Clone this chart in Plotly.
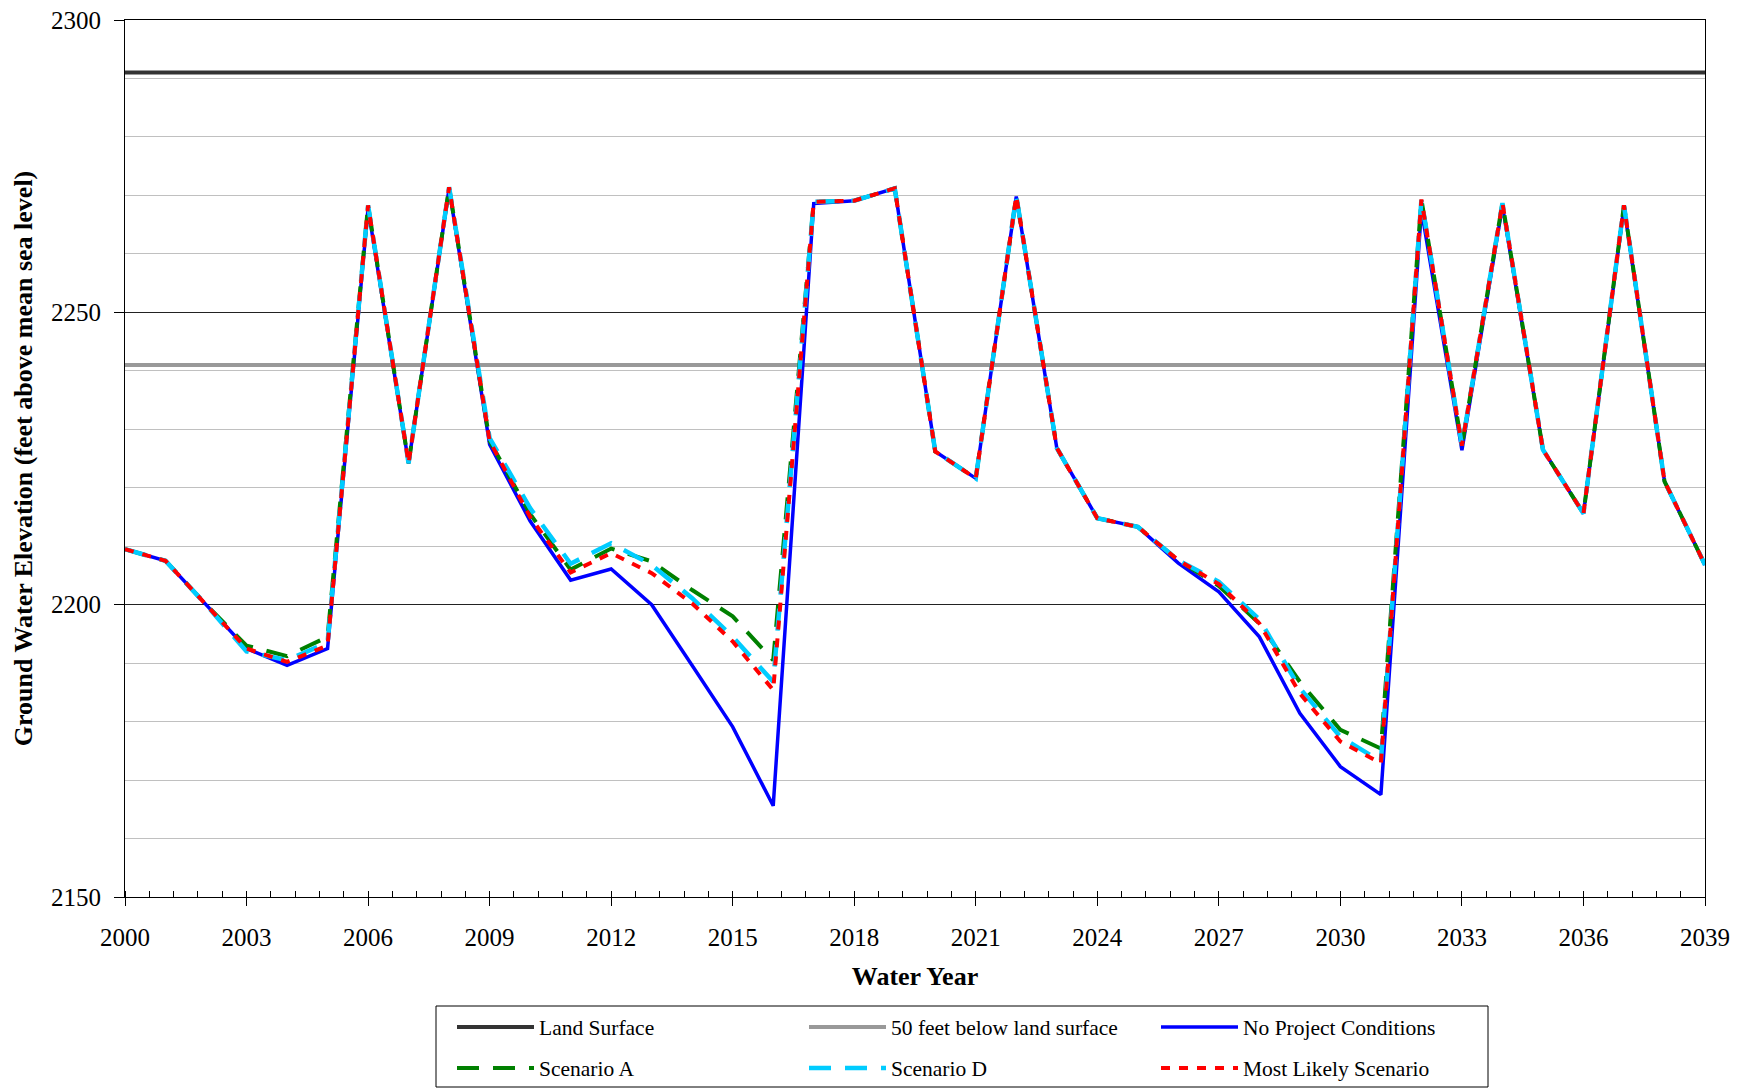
import plotly.graph_objects as go

# ---------------- data ----------------
years = list(range(2000, 2040))

land_surface_elev = 2291
below_50_elev = 2241

no_project = [2209.5, 2207.5, 2200.0, 2192.5, 2189.6, 2192.5, 2267.8, 2224.2, 2271.2, 2227.4,
              2214.3, 2204.2, 2206.1, 2200.0, 2189.6, 2179.1, 2165.6, 2268.6, 2269.1, 2271.2,
              2226.2, 2221.6, 2269.8, 2226.8, 2214.8, 2213.3, 2207.1, 2202.2, 2194.5, 2181.4,
              2172.3, 2167.5, 2267.5, 2226.4, 2268.2, 2226.5, 2215.6, 2268.0, 2221.1, 2206.8]

scenario_a = [2209.5, 2207.5, 2200.0, 2193.0, 2191.2, 2194.5, 2268.3, 2224.2, 2271.4, 2228.0,
              2215.5, 2206.0, 2209.6, 2207.4, 2202.5, 2198.0, 2190.5, 2268.9, 2269.1, 2271.2,
              2226.2, 2221.6, 2269.9, 2226.8, 2214.8, 2213.3, 2207.6, 2203.2, 2196.8, 2186.8,
              2178.6, 2175.4, 2269.3, 2227.2, 2268.7, 2226.5, 2215.6, 2268.3, 2221.1, 2206.8]

scenario_d = [2209.5, 2207.5, 2200.0, 2192.0, 2190.5, 2193.5, 2268.3, 2224.2, 2271.4, 2228.5,
              2216.5, 2207.0, 2210.5, 2206.8, 2201.1, 2194.5, 2186.8, 2268.9, 2269.1, 2271.2,
              2226.2, 2221.6, 2269.9, 2226.8, 2214.8, 2213.3, 2207.6, 2203.9, 2197.5, 2185.7,
              2177.4, 2173.2, 2269.3, 2227.2, 2268.7, 2226.5, 2215.6, 2268.3, 2221.1, 2206.8]

most_likely = [2209.5, 2207.5, 2200.0, 2192.5, 2190.2, 2193.0, 2268.3, 2224.2, 2271.4, 2228.0,
               2215.0, 2205.5, 2208.8, 2205.4, 2200.2, 2193.7, 2185.4, 2268.9, 2269.1, 2271.2,
               2226.2, 2221.6, 2269.9, 2226.8, 2214.8, 2213.3, 2207.6, 2203.5, 2196.8, 2184.8,
               2176.6, 2172.9, 2269.3, 2227.2, 2268.7, 2226.5, 2215.6, 2268.3, 2221.1, 2206.8]

x_tick_vals = list(range(2000, 2040, 3))
y_tick_vals = [2150, 2200, 2250, 2300]

FONT = "Liberation Serif, Times New Roman, serif"

fig = go.Figure()

fig.add_trace(go.Scatter(x=years, y=[land_surface_elev] * len(years), mode="lines",
                         name="Land Surface", line=dict(color="#333333", width=4),
                         legend="legend"))
fig.add_trace(go.Scatter(x=years, y=[below_50_elev] * len(years), mode="lines",
                         name="50 feet below land surface", line=dict(color="#999999", width=4),
                         legend="legend"))
fig.add_trace(go.Scatter(x=years, y=no_project, mode="lines",
                         name="No Project Conditions", line=dict(color="#0000FF", width=3.5),
                         legend="legend"))
fig.add_trace(go.Scatter(x=years, y=scenario_a, mode="lines",
                         name="Scenario A", line=dict(color="#008000", width=4, dash="22px,14px"),
                         legend="legend2"))
fig.add_trace(go.Scatter(x=years, y=scenario_d, mode="lines",
                         name="Scenario D", line=dict(color="#00CCFF", width=4.5, dash="22px,14px"),
                         legend="legend2"))
fig.add_trace(go.Scatter(x=years, y=most_likely, mode="lines",
                         name="Most Likely Scenario", line=dict(color="#FF0000", width=4, dash="9px,9px"),
                         legend="legend2"))

W, H = 1747, 1091
L, R, T, B = 125, 42, 20, 194
pw, ph = W - L - R, H - T - B


def px_x(p):
    return (p - L) / pw


def px_y(p):
    return (H - B - p) / ph


legend_common = dict(orientation="h", font=dict(family=FONT, size=21.5, color="black"),
                     entrywidth=260, entrywidthmode="pixels", itemwidth=77,
                     bgcolor="rgba(0,0,0,0)", borderwidth=0,
                     xanchor="left", yanchor="middle", traceorder="normal")

fig.update_layout(
    width=W, height=H,
    margin=dict(l=L, r=R, t=T, b=B, autoexpand=False),
    paper_bgcolor="white", plot_bgcolor="white",
    font=dict(family=FONT, size=24, color="black"),
    showlegend=True,
    legend=dict(**legend_common, x=px_x(452), y=px_y(1027)),
    legend2=dict(**legend_common, x=px_x(452), y=px_y(1068)),
    xaxis=dict(
        range=[2000, 2039], tickvals=x_tick_vals, ticktext=[str(v) for v in x_tick_vals],
        ticks="outside", ticklen=8, tickcolor="black", tickwidth=1,
        showline=True, linecolor="black", linewidth=1, mirror=True,
        showgrid=False, zeroline=False,
        tickfont=dict(family=FONT, size=25, color="black"),
        ticklabelstandoff=10,
        minor=dict(dtick=0.6, tick0=2000, ticks="inside", ticklen=6, tickcolor="black", showgrid=False),
        title=dict(text="<b>Water Year</b>", font=dict(family=FONT, size=26, color="black"), standoff=16),
    ),
    yaxis=dict(
        range=[2150, 2300], tickvals=y_tick_vals,
        ticks="outside", ticklen=10, tickcolor="black", tickwidth=1,
        showline=True, linecolor="black", linewidth=1, mirror=True,
        showgrid=True, gridcolor="#222222", gridwidth=1, zeroline=False,
        tickfont=dict(family=FONT, size=25, color="black"),
        ticklabelstandoff=8,
        minor=dict(dtick=10, tick0=2150, showgrid=True, gridcolor="#c0c0c0", gridwidth=1, ticks=""),
        title=dict(text="<b>Ground Water Elevation (feet above mean sea level)</b>",
                   font=dict(family=FONT, size=26, color="black"), standoff=10),
    ),
    shapes=[dict(type="rect", xref="paper", yref="paper",
                 x0=px_x(436), x1=px_x(1488), y0=px_y(1087), y1=px_y(1006),
                 line=dict(color="black", width=1), fillcolor="rgba(0,0,0,0)", layer="above")],
)

fig.write_html(
    "out.html",
    config={"displayModeBar": False},
    post_script="document.body.style.margin='0px';document.body.style.overflow='hidden';",
)
